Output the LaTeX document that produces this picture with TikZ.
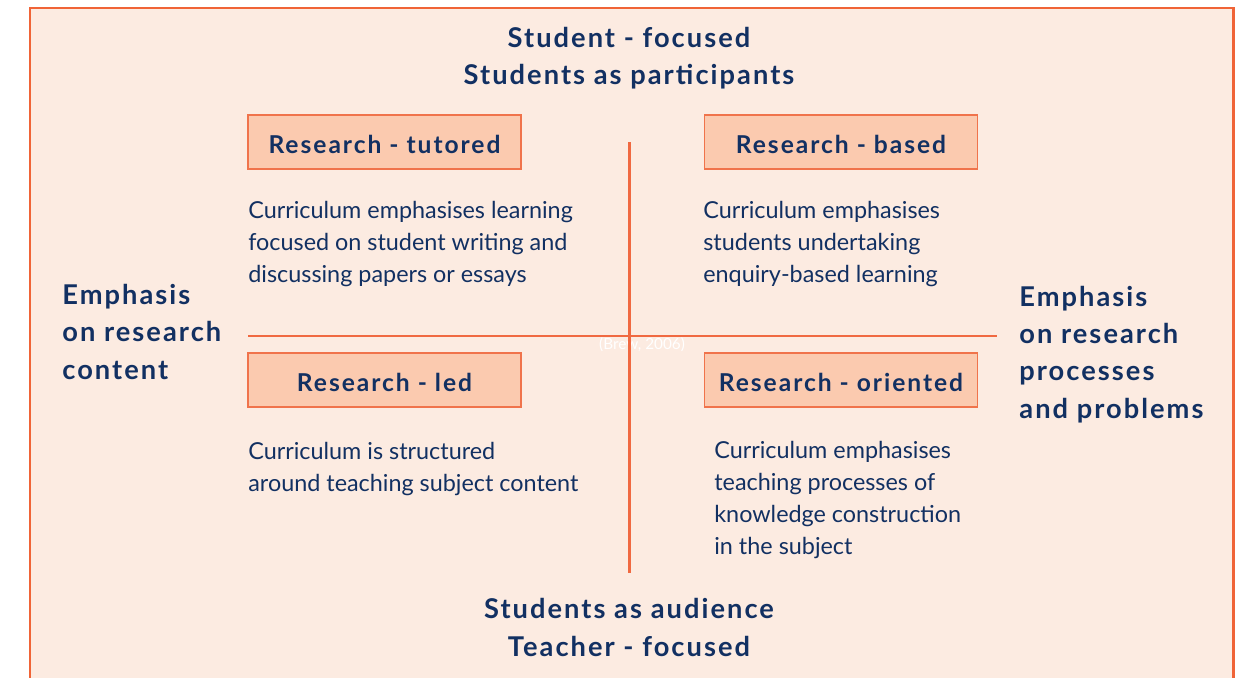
\documentclass[tikz,border=0pt]{standalone}
\usepackage{fontspec}
\setmainfont{Lato}
\newfontfamily\headfont[LetterSpace=7.5]{Lato}
\newfontfamily\labelfont[LetterSpace=8]{Lato}
\definecolor{paper}{RGB}{252,235,225}
\definecolor{frame}{RGB}{240,100,55}
\definecolor{boxfill}{RGB}{251,202,175}
\definecolor{boxline}{RGB}{240,115,75}
\definecolor{axis}{RGB}{240,105,65}
\definecolor{navy}{RGB}{18,48,98}
\tikzset{
    quadbox/.style={draw=boxline,line width=1.1pt,fill=boxfill,minimum width=5.46cm,minimum height=1.08cm,inner sep=0pt,text height=12.8pt,text depth=0pt,text=navy,font=\labelfont\fontsize{14}{16}\selectfont\bfseries},
    heading/.style={text=navy,inner sep=0pt,font=\headfont\fontsize{15.5}{21.2}\selectfont\bfseries},
    body/.style={text=navy,inner sep=0pt,anchor=base west,align=left,font=\fontsize{13.3}{18.2}\selectfont}
}
\begin{document}
\begin{tikzpicture}
        \def\boxLeft{7.69}
        \def\boxRight{16.82}
        \def\boxTop{-2.84}
        \def\boxBottom{-7.6}

        \useasboundingbox (0,0) rectangle (24.98,-13.54);
        \clip (0,0) rectangle (24.98,-13.54);

        % Frame
        \draw[frame,fill=paper,line width=1.7pt] (0.6,-0.16) rectangle (24.66,-14);

        % Axes
        \coordinate (axisN) at (12.58,-2.84);
        \coordinate (axisS) at (12.58,-11.46);
        \coordinate (axisW) at (4.96,-6.72);
        \coordinate (axisE) at (19.94,-6.72);
        \node[text=white,inner sep=0pt,font=\fontsize{8.7}{10}\selectfont] (source) at (12.84,-6.9) {(Brew, 2006)};
        \draw[axis,line width=1.7pt] (axisN) -- (axisS);
        \draw[axis,line width=1.7pt] (axisW) -- (axisE);

        % Poles (base = last line)
        \node[heading,anchor=base,align=center] (top) at (12.58,-1.7) {Student - focused\\Students as participants};
        \node[heading,anchor=base,align=center] (bottom) at (12.58,-13.12) {Students as audience\\Teacher - focused};
        \node[heading,anchor=base west,align=left] (left) at (1.24,-7.58) {Emphasis\\on research\\content};
        \node[heading,anchor=base west,align=left] (right) at (20.38,-8.36) {Emphasis\\on research\\processes\\and problems};

        % Quadrants
        \foreach \name/\x/\y/\label in {tutored/\boxLeft/\boxTop/Research - tutored,based/\boxRight/\boxTop/Research - based,led/\boxLeft/\boxBottom/Research - led,oriented/\boxRight/\boxBottom/Research - oriented} {
                \node[quadbox] (\name) at (\x,\y) {\label};
            }

        \node[body] (tutoredText) at (4.96,-5.64) {Curriculum emphasises learning\\focused on student writing and\\discussing papers or essays};
        \node[body] (basedText) at (14.06,-5.64) {Curriculum emphasises\\students undertaking\\enquiry-based learning};
        \node[body] (ledText) at (4.96,-9.82) {Curriculum is structured\\around teaching subject content};
        \node[body] (orientedText) at (14.28,-11.08) {Curriculum emphasises\\teaching processes of\\knowledge construction\\in the subject};
    \end{tikzpicture}
\end{document}
